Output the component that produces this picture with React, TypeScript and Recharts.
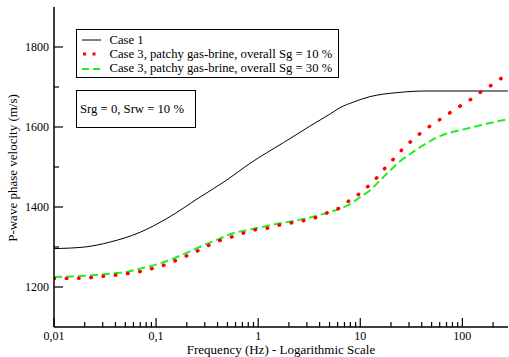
import * as React from "react";
import { LineChart, Line, XAxis, YAxis, Label } from "recharts";

// Case 1 (black solid)
const case1Freq = [0.01, 0.02, 0.035, 0.07, 0.127, 0.27, 0.49, 0.83, 1.77, 3.2, 5.1, 6.3, 8.5, 12.5, 23, 45, 100, 280];
const case1Vel = [1296, 1300, 1312, 1337, 1371, 1425, 1467, 1509, 1561, 1602, 1633, 1648, 1662, 1676, 1686, 1690, 1690, 1690];

// Case 3, overall Sg = 10 % (red dotted)
const sg10Freq = [0.01, 0.0136, 0.018, 0.024, 0.031, 0.041, 0.054, 0.071, 0.094, 0.121, 0.159, 0.204, 0.264, 0.34, 0.44, 0.6, 0.76, 0.97, 1.28, 1.68, 2.2, 2.9, 3.8, 4.9, 6.4, 7.9, 10, 12.3, 15, 18, 21.9, 26.5, 32.3, 40, 50, 63, 79, 100, 126, 158, 200, 251, 280];
const sg10Vel = [1221, 1221, 1222, 1224, 1227, 1230, 1234, 1239, 1247, 1255, 1267, 1279, 1292, 1306, 1318, 1328, 1337, 1344, 1348, 1356, 1361, 1367, 1375, 1387, 1399, 1417, 1435, 1455, 1477, 1501, 1524, 1547, 1567, 1587, 1605, 1622, 1639, 1656, 1672, 1691, 1707, 1725, 1733];

// Case 3, overall Sg = 30 % (green dashed)
const sg30Freq = [0.01, 0.02, 0.031, 0.054, 0.07, 0.094, 0.137, 0.21, 0.29, 0.42, 0.53, 0.84, 1.41, 2.9, 5.1, 6.4, 8, 10, 12.5, 15.7, 19.7, 24.7, 31, 38.8, 48.6, 61, 76, 103, 139, 187, 265, 280];
const sg30Vel = [1225, 1228, 1232, 1239, 1246, 1254, 1268, 1288, 1304, 1321, 1332, 1344, 1356, 1371, 1388, 1396, 1408, 1425, 1442, 1467, 1492, 1515, 1533, 1550, 1565, 1578, 1586, 1594, 1602, 1610, 1618, 1619];

const xMajorTicks = [0.01, 0.1, 1, 10, 100];
const xTickLabels = ["0,01", "0,1", "1", "10", "100"];
const yMajorTicks = [1200, 1400, 1600, 1800];
const yMinorTicks = [1300, 1500, 1700];

const legendLabels = [
  "Case 1",
  "Case 3, patchy gas-brine, overall Sg = 10 %",
  "Case 3, patchy gas-brine, overall Sg = 30 %",
];
const noteText = "Srg = 0, Srw = 10 %";

const FONT = "Liberation Serif, Times New Roman, serif";
const RED = "#ff0000";
const GREEN = "#22ee22";

const toPoints = (f: number[], v: number[]) => f.map((x, i) => ({ f: x, v: v[i] }));

// all x ticks: majors plus 2..9 per decade, up to the domain end
const xAllTicks: number[] = [];
for (let d = 0.01; d < 200; d *= 10) {
  for (let m = 1; m <= 9; m++) {
    const t = +(d * m).toPrecision(6);
    if (t <= 280) xAllTicks.push(t);
  }
}
const yAllTicks = [...yMajorTicks, ...yMinorTicks].sort((a, b) => a - b);

function XTick(props: any) {
  const { x, y, payload, side } = props;
  const idx = xMajorTicks.indexOf(payload.value);
  const len = idx >= 0 ? 9 : 5;
  const dir = side === "top" ? 1 : -1;
  return (
    <g>
      <line x1={x} x2={x} y1={y} y2={y + dir * len} stroke="#000" strokeWidth={1.2} />
      {side !== "top" && idx >= 0 && (
        <text x={x} y={y + 13} textAnchor="middle" fontSize={12} fontFamily={FONT} fill="#000">
          {xTickLabels[idx]}
        </text>
      )}
    </g>
  );
}

function YTick(props: any) {
  const { x, y, payload, side } = props;
  const major = yMajorTicks.includes(payload.value);
  const len = major ? 9 : 5;
  const dir = side === "right" ? -1 : 1;
  return (
    <g>
      <line x1={x} x2={x + dir * len} y1={y} y2={y} stroke="#000" strokeWidth={1.2} />
      {side !== "right" && major && (
        <text x={x - 5} y={y + 4} textAnchor="end" fontSize={12} fontFamily={FONT} fill="#000">
          {payload.value}
        </text>
      )}
    </g>
  );
}

function YLabel() {
  return (
    <text x={17} y={168} transform="rotate(-90 17 168)" textAnchor="middle" fontSize={13} fontFamily={FONT} fill="#000">
      P-wave phase velocity (m/s)
    </text>
  );
}

function LegendSample({ i }: { i: number }) {
  if (i === 0) return <line x1={0} x2={19} y1={5} y2={5} stroke="#000" strokeWidth={1} />;
  if (i === 1)
    return <line x1={1} x2={15} y1={5} y2={5} stroke={RED} strokeWidth={3} strokeDasharray="3 6.5" />;
  return <line x1={0} x2={18} y1={5} y2={5} stroke={GREEN} strokeWidth={2} strokeDasharray="7 4" />;
}

export default function App() {
  const axisLine = { stroke: "#000", strokeWidth: 1.5 };
  return (
    <div style={{ position: "absolute", left: 0, top: 0, width: 509, height: 357, background: "#fff" }}>
      <LineChart width={509} height={357} margin={{ top: 7, right: 1, bottom: 0, left: 8 }}>
        <XAxis
          xAxisId="bottom"
          dataKey="f"
          type="number"
          scale="log"
          domain={[0.01, 280]}
          allowDataOverflow
          ticks={xAllTicks}
          interval={0}
          height={30}
          tickSize={0}
          tickMargin={0}
          axisLine={axisLine}
          tickLine={false}
          tick={<XTick side="bottom" />}
        >
          <Label
            value="Frequency (Hz) - Logarithmic Scale"
            position="insideBottom"
            offset={3}
            style={{ fontSize: 13, fontFamily: FONT, fill: "#000" }}
          />
        </XAxis>
        <XAxis
          xAxisId="top"
          orientation="top"
          dataKey="f"
          type="number"
          scale="log"
          domain={[0.01, 280]}
          allowDataOverflow
          ticks={xAllTicks}
          interval={0}
          height={0}
          tickSize={0}
          tickMargin={0}
          axisLine={axisLine}
          tickLine={false}
          tick={<XTick side="top" />}
        />
        <YAxis
          yAxisId="left"
          dataKey="v"
          type="number"
          domain={[1100, 1900]}
          allowDataOverflow
          ticks={yAllTicks}
          interval={0}
          width={46}
          tickSize={0}
          tickMargin={0}
          axisLine={axisLine}
          tickLine={false}
          tick={<YTick side="left" />}
          label={<YLabel />}
        />
        <YAxis
          yAxisId="right"
          orientation="right"
          dataKey="v"
          type="number"
          domain={[1100, 1900]}
          allowDataOverflow
          ticks={yAllTicks}
          interval={0}
          width={0}
          tickSize={0}
          tickMargin={0}
          axisLine={axisLine}
          tickLine={false}
          tick={<YTick side="right" />}
        />
        <Line
          xAxisId="bottom"
          yAxisId="left"
          data={toPoints(case1Freq, case1Vel)}
          dataKey="v"
          type="monotone"
          stroke="#000"
          strokeWidth={1}
          dot={false}
          isAnimationActive={false}
        />
        <Line
          xAxisId="bottom"
          yAxisId="left"
          data={toPoints(sg30Freq, sg30Vel)}
          dataKey="v"
          type="monotone"
          stroke={GREEN}
          strokeWidth={2}
          strokeDasharray="8 4"
          dot={false}
          isAnimationActive={false}
        />
        <Line
          xAxisId="bottom"
          yAxisId="left"
          data={toPoints(sg10Freq, sg10Vel)}
          dataKey="v"
          type="monotone"
          stroke={RED}
          strokeWidth={3.5}
          strokeLinecap="round"
          strokeDasharray="0.5 11.8"
          dot={false}
          isAnimationActive={false}
        />
      </LineChart>

      <div
        style={{
          position: "absolute",
          left: 76,
          top: 29,
          width: 263,
          height: 49,
          border: "1.5px solid #000",
          boxSizing: "border-box",
          background: "#fff",
          fontFamily: FONT,
          fontSize: 12.7,
          color: "#000",
        }}
      >
        {legendLabels.map((t, i) => (
          <div
            key={t}
            style={{ position: "absolute", left: 5, top: 3 + i * 14.4, height: 14, display: "flex", alignItems: "center", whiteSpace: "nowrap" }}
          >
            <svg width={22} height={10} style={{ marginRight: 5.5 }}>
              <LegendSample i={i} />
            </svg>
            <span>{t}</span>
          </div>
        ))}
      </div>

      <div
        style={{
          position: "absolute",
          left: 76,
          top: 90,
          width: 120,
          height: 38,
          border: "1.5px solid #000",
          boxSizing: "border-box",
          background: "#fff",
          fontFamily: FONT,
          fontSize: 12.7,
          color: "#000",
          display: "flex",
          alignItems: "center",
          paddingLeft: 3,
          whiteSpace: "nowrap",
        }}
      >
        {noteText}
      </div>
    </div>
  );
}
